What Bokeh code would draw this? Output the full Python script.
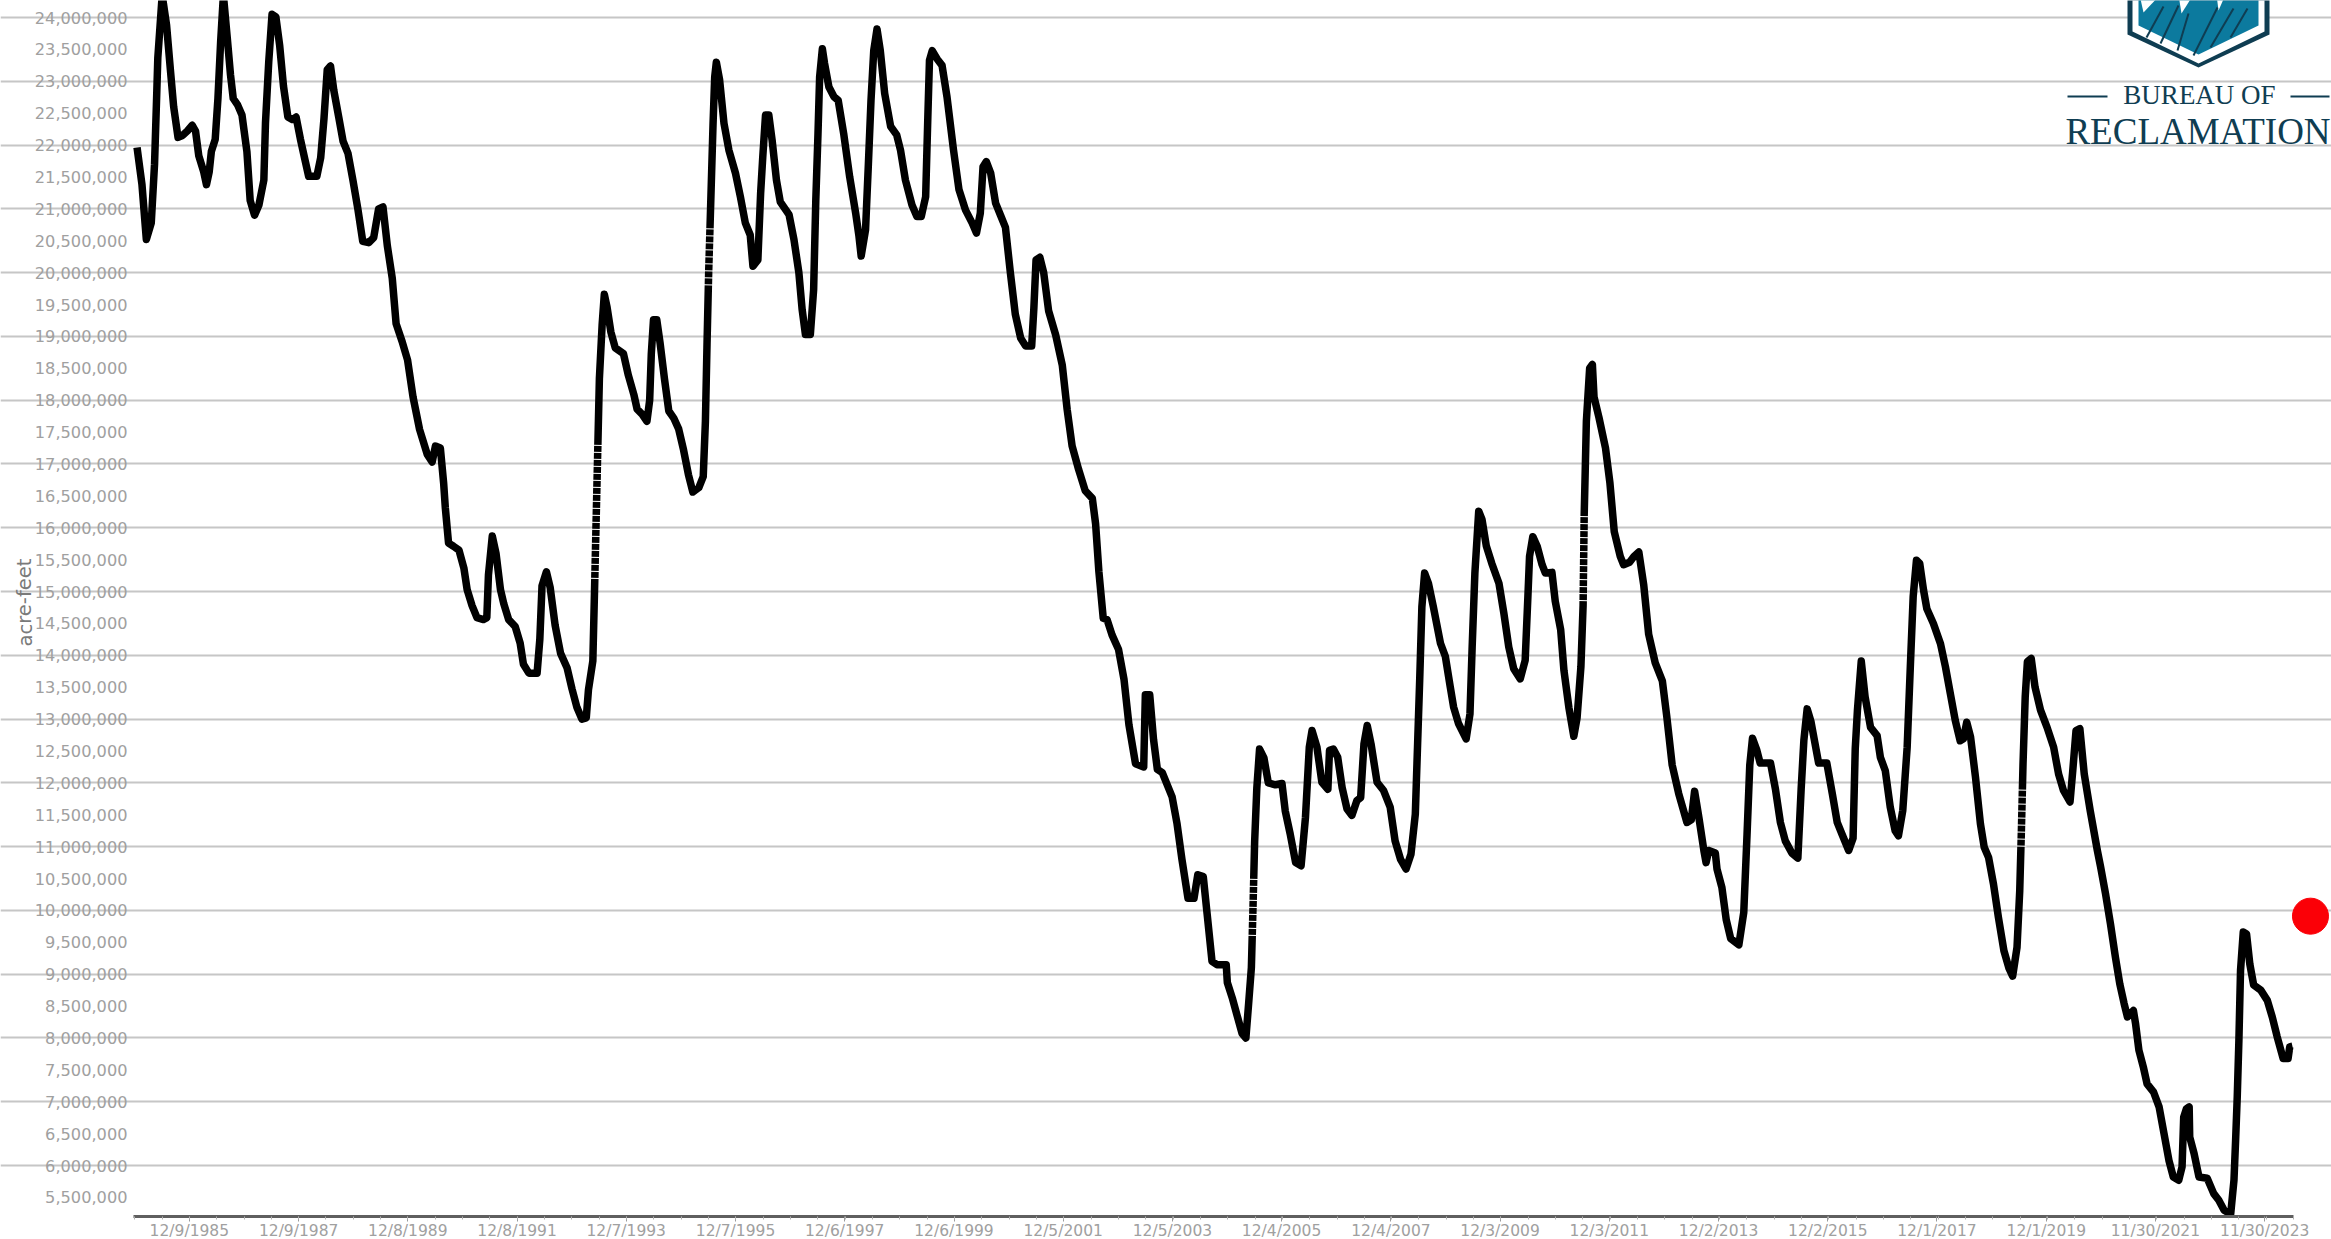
from datetime import date
import math
import numpy as np
from bokeh.plotting import figure
from bokeh.models import Range1d, FixedTicker, NumeralTickFormatter
from bokeh.core.properties import value
from bokeh.embed import file_html
from bokeh.resources import INLINE

# ---- data -----------------------------------------------------------------
y_axis_label = "acre-feet"
tick_dates = ["12/9/1985", "12/9/1987", "12/8/1989", "12/8/1991", "12/7/1993",
              "12/7/1995", "12/6/1997", "12/6/1999", "12/5/2001", "12/5/2003",
              "12/4/2005", "12/4/2007", "12/3/2009", "12/3/2011", "12/2/2013",
              "12/2/2015", "12/1/2017", "12/1/2019", "11/30/2021", "11/30/2023"]

obs_1985_1990 = [
 (1984.98,21.96),(1985.07,21.38),(1985.15,20.52),(1985.24,20.78),(1985.30,21.70),(1985.34,22.80),(1985.36,23.37),
 (1985.44,24.35),(1985.52,23.88),(1985.59,23.18),(1985.65,22.60),(1985.73,22.12),(1985.81,22.15),(1985.90,22.22),
 (1985.99,22.31),(1986.05,22.22),(1986.11,21.83),(1986.20,21.58),(1986.25,21.38),(1986.30,21.58),(1986.34,21.90),
 (1986.41,22.09),(1986.46,22.73),(1986.51,23.63),(1986.56,24.35),(1986.63,23.69),(1986.69,23.10),(1986.74,22.73),
 (1986.82,22.63),(1986.90,22.47),(1986.99,21.90),(1987.05,21.13),(1987.13,20.90),(1987.21,21.06),(1987.30,21.45),
 (1987.33,22.35),(1987.39,23.31),(1987.45,24.05),(1987.52,24.01),(1987.59,23.56),(1987.66,22.92),(1987.74,22.44),
 (1987.82,22.40),(1987.89,22.44),(1987.97,22.09),(1988.06,21.74),(1988.12,21.51),(1988.27,21.51),(1988.34,21.80),
 (1988.40,22.41),(1988.46,23.18),(1988.52,23.24),(1988.58,22.86),(1988.67,22.44),(1988.75,22.06),(1988.84,21.87),
 (1988.93,21.45),(1989.02,21.00),(1989.11,20.49),(1989.22,20.47),(1989.31,20.55),(1989.40,21.00),(1989.48,21.03),
 (1989.56,20.42),(1989.65,19.91),(1989.72,19.20),(1989.83,18.92),(1989.93,18.63),(1990.03,18.05),(1990.15,17.54),
 (1990.29,17.15),(1990.38,17.03),(1990.44,17.28),(1990.53,17.25),(1990.59,16.70)]

obs_1990_1995 = [
 (1990.62,16.32),(1990.68,15.76),(1990.77,15.71),(1990.87,15.65),(1990.96,15.37),(1991.02,15.03),(1991.11,14.78),
 (1991.20,14.59),(1991.32,14.56),(1991.38,14.59),(1991.41,15.26),(1991.48,15.87),(1991.55,15.59),(1991.63,15.03),
 (1991.69,14.81),(1991.78,14.56),(1991.90,14.45),(1991.99,14.19),(1992.05,13.86),(1992.15,13.72),(1992.30,13.72),
 (1992.35,14.25),(1992.39,15.09),(1992.47,15.31),(1992.54,15.06),(1992.63,14.47),(1992.73,14.03),(1992.85,13.80),
 (1992.94,13.47),(1993.03,13.18),(1993.12,13.00),(1993.20,13.02),(1993.24,13.46),(1993.32,13.91),(1993.35,14.98),
 (1993.38,16.10),(1993.41,17.22),(1993.44,18.34),(1993.49,19.18),(1993.53,19.66),(1993.58,19.46),(1993.65,19.07),
 (1993.73,18.82),(1993.88,18.73),(1993.97,18.39),(1994.07,18.09),(1994.13,17.86),(1994.22,17.78),(1994.31,17.67),
 (1994.36,18.00),(1994.39,18.73),(1994.43,19.26),(1994.49,19.26),(1994.55,18.90),(1994.63,18.34),(1994.71,17.83),
 (1994.80,17.72),(1994.89,17.55),(1994.98,17.22),(1995.07,16.83),(1995.15,16.56),(1995.26,16.63),(1995.34,16.80),
 (1995.38,17.67),(1995.41,18.90),(1995.44,20.02)]

obs_1995_2000 = [
 (1995.47,20.88),(1995.52,22.34),(1995.55,23.07),(1995.58,23.30),(1995.64,23.02),(1995.72,22.34),(1995.81,21.92),
 (1995.93,21.56),(1996.02,21.19),(1996.11,20.78),(1996.20,20.59),(1996.25,20.10),(1996.34,20.20),(1996.39,21.24),
 (1996.43,21.82),(1996.48,22.47),(1996.54,22.47),(1996.60,22.08),(1996.68,21.45),(1996.75,21.11),(1996.91,20.91),
 (1997.00,20.52),(1997.09,20.00),(1997.15,19.42),(1997.21,19.03),(1997.30,19.03),(1997.36,19.73),(1997.40,21.14),
 (1997.44,22.18),(1997.47,23.07),(1997.52,23.51),(1997.56,23.28),(1997.64,22.91),(1997.73,22.76),(1997.81,22.70),
 (1997.91,22.18),(1998.02,21.50),(1998.13,20.93),(1998.19,20.57),(1998.23,20.26),(1998.31,20.67),(1998.36,21.66),
 (1998.41,22.70),(1998.46,23.48),(1998.52,23.82),(1998.58,23.48),(1998.66,22.81),(1998.77,22.29),(1998.88,22.16),
 (1998.95,21.92),(1999.04,21.45),(1999.16,21.06),(1999.25,20.88),(1999.33,20.88),(1999.41,21.19),(1999.45,22.44),
 (1999.48,23.33),(1999.53,23.48),(1999.62,23.35),(1999.71,23.25),(1999.80,22.76),(1999.92,21.92),(2000.02,21.30),
 (2000.14,20.98),(2000.26,20.78),(2000.34,20.62),(2000.41,20.93),(2000.46,21.66),(2000.52,21.74),(2000.60,21.56),
 (2000.69,21.09),(2000.78,20.90)]

obs_2000_2005 = [
 (2000.87,20.71),(2000.96,20.00),(2001.05,19.35),(2001.15,18.97),(2001.24,18.85),(2001.35,18.85),(2001.39,19.44),
 (2001.43,20.20),(2001.50,20.24),(2001.57,20.00),(2001.66,19.40),(2001.79,19.02),(2001.91,18.55),(2002.00,17.85),
 (2002.09,17.28),(2002.21,16.91),(2002.33,16.58),(2002.46,16.46),(2002.52,16.06),(2002.58,15.31),(2002.66,14.58),
 (2002.73,14.56),(2002.82,14.32),(2002.94,14.09),(2003.04,13.62),(2003.13,12.91),(2003.25,12.30),(2003.40,12.25),
 (2003.43,13.38),(2003.51,13.38),(2003.58,12.68),(2003.65,12.21),(2003.74,12.16),(2003.92,11.78),(2004.01,11.36),
 (2004.10,10.80),(2004.21,10.19),(2004.32,10.19),(2004.39,10.56),(2004.49,10.53),(2004.56,9.95),(2004.65,9.20),
 (2004.74,9.15),(2004.91,9.15),(2004.93,8.87),(2005.02,8.63),(2005.11,8.35),(2005.20,8.07),(2005.27,8.00),
 (2005.32,8.54),(2005.37,9.10),(2005.40,10.05),(2005.43,11.08),(2005.47,11.92),(2005.52,12.53),(2005.60,12.39),
 (2005.68,12.00),(2005.81,11.97),(2005.93,11.99)]

obs_2006_2010 = [
 (2005.99,11.56),(2006.08,11.20),(2006.18,10.75),(2006.28,10.70),(2006.36,11.46),(2006.43,12.56),(2006.48,12.82),
 (2006.57,12.56),(2006.66,12.01),(2006.77,11.90),(2006.80,12.51),(2006.87,12.53),(2006.95,12.40),(2007.03,11.93),
 (2007.12,11.59),(2007.21,11.49),(2007.30,11.72),(2007.37,11.77),(2007.43,12.61),(2007.49,12.90),(2007.56,12.61),
 (2007.67,12.01),(2007.79,11.88),(2007.91,11.62),(2008.00,11.09),(2008.10,10.80),(2008.20,10.65),(2008.29,10.88),
 (2008.37,11.51),(2008.41,12.56),(2008.45,13.61),(2008.49,14.76),(2008.54,15.29),(2008.61,15.13),(2008.70,14.76),
 (2008.83,14.19),(2008.92,13.98),(2009.01,13.50),(2009.07,13.19),(2009.16,12.93),(2009.30,12.69),(2009.37,13.08),
 (2009.41,14.13),(2009.46,15.29),(2009.53,16.26),(2009.59,16.13),(2009.67,15.71),(2009.77,15.44),(2009.90,15.13),
 (2009.99,14.66),(2010.08,14.13),(2010.17,13.79),(2010.29,13.63),(2010.38,13.92),(2010.43,14.92),(2010.46,15.55),
 (2010.52,15.86),(2010.60,15.71),(2010.69,15.42)]

obs_2010_2016 = [
 (2010.75,15.29),(2010.87,15.30),(2010.93,14.85),(2011.03,14.40),(2011.09,13.76),(2011.18,13.18),(2011.27,12.73),
 (2011.33,13.02),(2011.40,13.82),(2011.44,14.78),(2011.46,16.19),(2011.50,17.67),(2011.56,18.50),(2011.61,18.56),
 (2011.64,18.05),(2011.73,17.73),(2011.85,17.25),(2011.93,16.71),(2012.01,15.94),(2012.12,15.55),(2012.18,15.42),
 (2012.29,15.46),(2012.37,15.55),(2012.46,15.62),(2012.55,15.10),(2012.64,14.33),(2012.76,13.88),(2012.89,13.60),
 (2012.97,13.05),(2013.07,12.28),(2013.19,11.83),(2013.34,11.38),(2013.42,11.42),(2013.48,11.87),(2013.56,11.45),
 (2013.65,10.94),(2013.69,10.75),(2013.74,10.94),(2013.86,10.90),(2013.89,10.65),(2013.98,10.36),(2014.06,9.85),
 (2014.14,9.56),(2014.29,9.46),(2014.38,9.97),(2014.44,11.19),(2014.49,12.28),(2014.54,12.70),(2014.62,12.51),
 (2014.68,12.31),(2014.87,12.31),(2014.96,11.90),(2015.05,11.38),(2015.14,11.09),(2015.26,10.90),(2015.37,10.82),
 (2015.43,11.90),(2015.48,12.67),(2015.54,13.16),(2015.61,12.96),(2015.75,12.31),(2015.90,12.31),(2016.00,11.83),
 (2016.09,11.38),(2016.18,11.19),(2016.30,10.94),(2016.38,11.13),(2016.42,12.54)]

obs_2016_2020 = [
 (2016.46,13.14),(2016.53,13.91),(2016.60,13.35),(2016.70,12.87),(2016.82,12.74),(2016.88,12.40),(2016.97,12.19),
 (2017.06,11.62),(2017.15,11.25),(2017.21,11.17),(2017.29,11.57),(2017.37,12.56),(2017.43,13.87),(2017.48,14.92),
 (2017.54,15.49),(2017.60,15.44),(2017.67,15.02),(2017.73,14.73),(2017.85,14.50),(2017.98,14.18),(2018.07,13.82),
 (2018.16,13.40),(2018.25,12.98),(2018.34,12.66),(2018.40,12.69),(2018.46,12.95),(2018.53,12.72),(2018.62,12.09),
 (2018.71,11.36),(2018.78,10.99),(2018.86,10.83),(2018.95,10.41),(2019.04,9.89),(2019.14,9.37),(2019.23,9.10),
 (2019.30,8.97),(2019.38,9.42),(2019.43,10.31),(2019.46,11.25),(2019.49,12.30),(2019.53,13.35),(2019.57,13.90),
 (2019.64,13.95),(2019.71,13.50),(2019.81,13.14),(2019.93,12.87),(2020.05,12.56),(2020.14,12.14),(2020.23,11.88),
 (2020.35,11.70),(2020.40,12.19),(2020.46,12.82),(2020.53,12.85),(2020.61,12.14),(2020.72,11.56),(2020.85,10.94)]

obs_2021_2024 = [
 (2020.91,10.68),(2021.00,10.26),(2021.09,9.79),(2021.18,9.27),(2021.26,8.85),(2021.34,8.54),(2021.40,8.33),
 (2021.51,8.43),(2021.55,8.22),(2021.61,7.81),(2021.69,7.55),(2021.76,7.28),(2021.88,7.15),(2021.98,6.92),
 (2022.07,6.50),(2022.16,6.08),(2022.24,5.82),(2022.34,5.77),(2022.40,5.98),(2022.43,6.76),(2022.48,6.89),
 (2022.53,6.92),(2022.54,6.45),(2022.62,6.19),(2022.71,5.82),(2022.86,5.80),(2022.98,5.56),(2023.07,5.46),
 (2023.17,5.30),(2023.29,5.24),(2023.35,5.77),(2023.38,6.40),(2023.41,7.08),(2023.44,7.96),(2023.47,9.06),
 (2023.52,9.66),(2023.58,9.63),(2023.64,9.16),(2023.71,8.83),(2023.84,8.75),(2023.96,8.59),(2024.05,8.33),
 (2024.14,8.02),(2024.25,7.68),(2024.34,7.68),(2024.37,7.86),(2024.42,7.87)]

current_year = [2024.75]
current_value = [9.91]

# stretches of the record drawn as separate dots: first year, last year, low value, high value
dotted_spans = [(1993.30, 1993.45, 15.2, 17.33), (1995.40, 1995.50, 19.8, 20.75),
                (2005.35, 2005.46, 9.6, 10.5), (2011.42, 2011.50, 14.85, 16.2),
                (2019.44, 2019.50, 11.0, 11.9)]

observed = (obs_1985_1990 + obs_1990_1995 + obs_1995_2000 + obs_2000_2005 +
            obs_2006_2010 + obs_2010_2016 + obs_2016_2020 + obs_2021_2024)
years = [o[0] for o in observed]
acre_feet = [o[1] * 1e6 for o in observed]

# ---- helpers ----------------------------------------------------------------
def to_year(s):
    m, d, y = map(int, s.split("/"))
    return y + (date(y, m, d).toordinal() - date(y, 1, 1).toordinal()) / 365.0

major = [to_year(s) for s in tick_dates]
minor = [major[0] - 1.5 + 0.5 * i for i in range(0, 82)]
minor = [t for t in minor if 1984.92 <= t <= 2024.44]

# ---- figure -----------------------------------------------------------------
W, H = 2331, 1239
F_L, F_B, AX_R = 133, 1216, 2293
YEAR_L = 1984.915
PX_YEAR = 54.65
PX_MAF = 63.78
x_range = Range1d(YEAR_L - F_L / PX_YEAR, YEAR_L + (W - F_L) / PX_YEAR)
y_range = Range1d((24 - (H - 17) / PX_MAF) * 1e6, (24 + 17 / PX_MAF) * 1e6)
x_end = YEAR_L + (AX_R - F_L) / PX_YEAR
axis_level = (24 - (F_B - 17) / PX_MAF) * 1e6

p = figure(width=W, height=H, x_range=x_range, y_range=y_range,
           output_backend="svg", toolbar_location=None, tools="",
           min_border_left=0, min_border_right=0, min_border_top=0,
           min_border_bottom=0, outline_line_color=None,
           background_fill_color="white", border_fill_color="white")
p.extra_x_ranges["px"] = Range1d(0, W)
p.extra_y_ranges["px"] = Range1d(H, 0)

GREY = "#a0a0a0"
p.xgrid.visible = False
p.ygrid.ticker = FixedTicker(ticks=[m * 1e6 for m in range(6, 25)])
p.ygrid.grid_line_color = "#c6c6c6"
p.ygrid.grid_line_width = 2
p.ygrid.bounds = (YEAR_L, x_end)

xa = p.xaxis[0]
xa.fixed_location = axis_level
xa.ticker = FixedTicker(ticks=major, minor_ticks=minor)
xa.major_label_overrides = {t: s for t, s in zip(major, tick_dates)}
xa.bounds = (YEAR_L, x_end)
xa.axis_line_color = "#5f5f5f"
xa.axis_line_width = 3
xa.major_tick_line_color = "#9a9a9a"
xa.minor_tick_line_color = "#b0b0b0"
xa.major_tick_out = 5
xa.major_tick_in = 0
xa.minor_tick_out = 3
xa.minor_tick_in = 0
xa.major_label_text_font = "DejaVu Sans"
xa.major_label_text_font_size = "15.5px"
xa.major_label_text_color = GREY
xa.major_label_standoff = 0

ya = p.yaxis[0]
ya.fixed_location = YEAR_L
ya.ticker = FixedTicker(ticks=[m * 5e5 for m in range(11, 49)])
ya.formatter = NumeralTickFormatter(format="0,0")
ya.axis_line_color = None
ya.major_tick_line_color = None
ya.minor_tick_line_color = None
ya.major_tick_out = 0
ya.major_tick_in = 0
ya.major_label_standoff = 6
ya.major_label_text_font = "DejaVu Sans"
ya.major_label_text_font_size = "16.2px"
ya.major_label_text_color = GREY

p.text([24.5], [602], text=[y_axis_label], angle=[math.pi / 2], text_align="center", text_baseline="middle",
       text_font=value("DejaVu Sans"), text_font_size="19.5px", text_color="#7a7a7a",
       x_range_name="px", y_range_name="px")

# ---- series -----------------------------------------------------------------
p.line(years, acre_feet, line_color="black", line_width=7.5, line_join="round")
yrs, vals = np.array(years), np.array(acre_feet) / 1e6
for y0, y1, lo, hi in dotted_spans:
    m = (yrs >= y0) & (yrs <= y1)
    xs = np.interp([lo, hi], vals[m], yrs[m])
    p.line(list(xs), [lo * 1e6, hi * 1e6], line_color="white", line_width=10, line_dash="1 6")
p.scatter(current_year, [v * 1e6 for v in current_value], size=36, color="#fb0007")

# ---- logo (drawn in page pixels) ---------------------------------------------
DARK, TEAL = "#0f3d52", "#0c7a9e"
def shape(xs, ys, c):
    p.patch(xs, ys, color=c, x_range_name="px", y_range_name="px", line_width=0)
shape([2127, 2269, 2269, 2198, 2127], [-6, -6, 34, 67, 34], DARK)
shape([2132, 2264, 2264, 2198, 2132], [-6, -6, 31, 63, 31], "white")
shape([2138, 2258, 2258, 2198, 2138], [-6, -6, 25, 54, 25], TEAL)
for tx, ty in [([2139, 2160, 2143], [-6, -6, 12]), ([2178, 2193, 2181], [-6, -6, 13]), ([2216, 2225, 2218], [-6, -6, 10])]:
    shape(tx, ty, "white")
for bx, by in [([2146, 2163], [37, 6]), ([2160, 2178], [43, 5]), ([2177, 2188], [50, 13]),
               ([2193, 2217], [55, 7]), ([2210, 2233], [47, 8]), ([2230, 2247], [37, 8])]:
    p.line(bx, by, line_color=DARK, line_width=2, x_range_name="px", y_range_name="px")
for lx in ([2067, 2107], [2290, 2329]):
    p.line(lx, [96, 96], line_color=DARK, line_width=2, x_range_name="px", y_range_name="px")
p.text([2199], [94.5], text=["BUREAU OF"], text_font=value("Liberation Serif"), text_font_size="27px",
       text_color=DARK, text_align="center", text_baseline="middle", x_range_name="px", y_range_name="px")
p.text([2197.5], [131], text=["RECLAMATION"], text_font=value("Liberation Serif"), text_font_size="37px",
       text_color=DARK, text_align="center", text_baseline="middle", x_range_name="px", y_range_name="px")

open("out.html", "w").write(file_html(p, INLINE))
